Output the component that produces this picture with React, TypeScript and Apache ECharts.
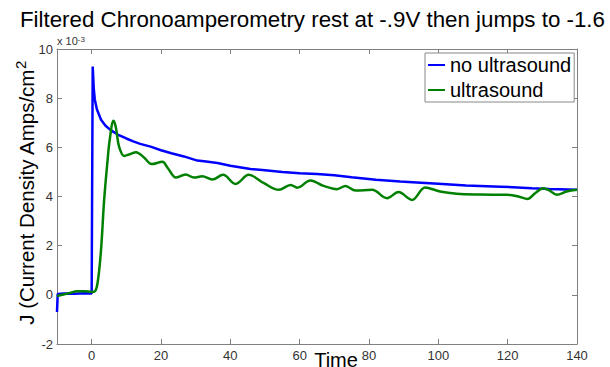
import React, { useEffect, useRef } from "react";
import * as echarts from "echarts";

const TITLE = "Filtered Chronoamperometry rest at -.9V then jumps to -1.6";
const SERIES_NAMES = ["no ultrasound", "ultrasound"];
const X_TICKS = [0, 20, 40, 60, 80, 100, 120, 140];

// time, J (x 10^-3)
const noUltrasound: [number, number][] = [
  [-10, -0.7], [-9.8, 0.03], [-8, 0.05], [-5, 0.04], [-2, 0.06], [0, 0.05], [0.2, 0.05],
  [0.3, 9.29], [0.6, 8.4], [0.9, 7.95], [1.5, 7.55], [2.7, 7.12], [4, 6.88], [5.5, 6.7],
  [7.5, 6.52], [10, 6.36], [12, 6.24], [14, 6.14], [17, 6.03], [20, 5.88], [23, 5.76],
  [26.6, 5.63], [30.5, 5.46], [33, 5.42], [36.3, 5.36], [40, 5.25], [45.8, 5.12], [50, 5.07],
  [55, 5.0], [60, 4.95], [65, 4.92], [70, 4.86], [75, 4.78], [82, 4.68], [89, 4.61],
  [95, 4.56], [100, 4.52], [108, 4.45], [118, 4.4], [127, 4.34], [132, 4.31], [140, 4.27],
];

const ultrasound: [number, number][] = [
  [-10, -0.05], [-7, 0.05], [-4, 0.15], [-2, 0.15], [0, 0.12], [0.8, 0.13], [1.7, 0.48],
  [2.7, 1.83], [3.6, 3.86], [4.6, 5.49], [5.2, 6.3], [6.3, 7.08], [7.0, 6.8], [7.9, 6.03],
  [9.4, 5.65], [11, 5.72], [12.8, 5.8], [15, 5.6], [17.3, 5.32], [20.4, 5.41], [22, 5.15],
  [24.3, 4.77], [27.1, 4.9], [29.5, 4.77], [31.9, 4.82], [34.8, 4.69], [37.9, 4.88],
  [41.5, 4.51], [45.3, 4.88], [49.7, 4.54], [54, 4.27], [57.4, 4.47], [59.3, 4.36],
  [63.1, 4.65], [66.9, 4.43], [70.8, 4.3], [73.2, 4.43], [76.1, 4.24], [80.9, 4.27],
  [85.2, 3.93], [88.5, 4.18], [92.4, 3.86], [96.2, 4.37], [100.5, 4.2], [105.3, 4.11],
  [112, 4.08], [119.7, 4.07], [123.1, 4.0], [125.7, 3.9], [127.9, 4.13], [130.3, 4.34],
  [132, 4.25], [134.2, 4.07], [137, 4.2], [140, 4.27],
];

const FONT = "'Liberation Sans', Arial, sans-serif";
const AXIS_COLOR = "#808080";
const LABEL_COLOR = "#333333";

export default function App() {
  const ref = useRef<HTMLDivElement>(null);
  useEffect(() => {
    if (!ref.current) return;
    const chart = echarts.init(ref.current, undefined, { renderer: "svg" });
    const tickCommon = { show: true, inside: true, length: 5, lineStyle: { color: AXIS_COLOR } };
    chart.setOption({
      animation: false,
      backgroundColor: "#ffffff",
      textStyle: { fontFamily: FONT },
      title: {
        text: TITLE,
        left: 20,
        top: 8,
        padding: 0,
        textStyle: { fontSize: 22.3, fontWeight: "normal", color: "#000", fontFamily: FONT },
      },
      grid: { left: 57, right: 33, top: 49, bottom: 23, containLabel: false },
      legend: {
        data: SERIES_NAMES,
        orient: "vertical",
        left: 425,
        top: 53,
        padding: [2, 3, 2, 3],
        itemGap: 5,
        itemWidth: 17,
        itemHeight: 2,
        icon: "rect",
        backgroundColor: "#ffffff",
        borderColor: "#888888",
        borderWidth: 1,
        borderRadius: 0,
        textStyle: { fontSize: 20, color: "#000", fontFamily: FONT },
      },
      xAxis: [
        {
          type: "value",
          min: -10,
          max: 140,
          axisLine: { show: true, onZero: false, lineStyle: { color: AXIS_COLOR } },
          axisTick: { ...tickCommon, customValues: X_TICKS },
          axisLabel: { customValues: X_TICKS, color: LABEL_COLOR, fontSize: 13, margin: 5, fontFamily: FONT },
          splitLine: { show: false },
        },
        {
          type: "value",
          position: "top",
          min: -10,
          max: 140,
          axisLine: { show: true, onZero: false, lineStyle: { color: AXIS_COLOR } },
          axisTick: { ...tickCommon, customValues: X_TICKS },
          axisLabel: { show: false },
          splitLine: { show: false },
        },
      ],
      yAxis: [
        {
          type: "value",
          min: -2,
          max: 10,
          interval: 2,
          axisLine: { show: true, onZero: false, lineStyle: { color: AXIS_COLOR } },
          axisTick: tickCommon,
          axisLabel: { color: LABEL_COLOR, fontSize: 13, margin: 4, fontFamily: FONT },
          splitLine: { show: false },
        },
        {
          type: "value",
          position: "right",
          min: -2,
          max: 10,
          interval: 2,
          axisLine: { show: true, onZero: false, lineStyle: { color: AXIS_COLOR } },
          axisTick: tickCommon,
          axisLabel: { show: false },
          splitLine: { show: false },
        },
      ],
      series: [
        {
          name: SERIES_NAMES[0],
          type: "line",
          data: noUltrasound,
          showSymbol: false,
          symbol: "none",
          lineStyle: { color: "#0000ff", width: 2.5 },
          itemStyle: { color: "#0000ff" },
          z: 3,
        },
        {
          name: SERIES_NAMES[1],
          type: "line",
          data: ultrasound,
          showSymbol: false,
          symbol: "none",
          smooth: 0.35,
          lineStyle: { color: "#008000", width: 2.5 },
          itemStyle: { color: "#008000" },
          z: 4,
        },
      ],
      graphic: [
        {
          type: "text",
          left: 57,
          top: 35,
          style: {
            text: "{a|x 10}{b|-3}",
            fill: "#333",
            rich: {
              a: { fontSize: 11, fontFamily: FONT, fill: "#333", verticalAlign: "bottom" },
              b: { fontSize: 8, fontFamily: FONT, fill: "#333", verticalAlign: "top" },
            },
          },
        },
        {
          type: "text",
          x: 25,
          y: 193,
          rotation: Math.PI / 2,
          style: {
            text: "{a|J (Current Density Amps/cm}{b|2}",
            align: "center",
            verticalAlign: "middle",
            fill: "#000",
            rich: {
              a: { fontSize: 20.5, fontFamily: FONT, fill: "#000", lineHeight: 24, verticalAlign: "bottom" },
              b: { fontSize: 15, fontFamily: FONT, fill: "#000", verticalAlign: "top" },
            },
          },
        },
        {
          type: "text",
          x: 336,
          y: 350,
          style: {
            text: "Time",
            align: "center",
            verticalAlign: "top",
            fontSize: 20,
            fontFamily: FONT,
            fill: "#000",
          },
        },
      ],
    });
    return () => chart.dispose();
  }, []);
  return (
    <div
      ref={ref}
      style={{ position: "fixed", left: 0, top: 0, width: 610, height: 367 }}
    />
  );
}
